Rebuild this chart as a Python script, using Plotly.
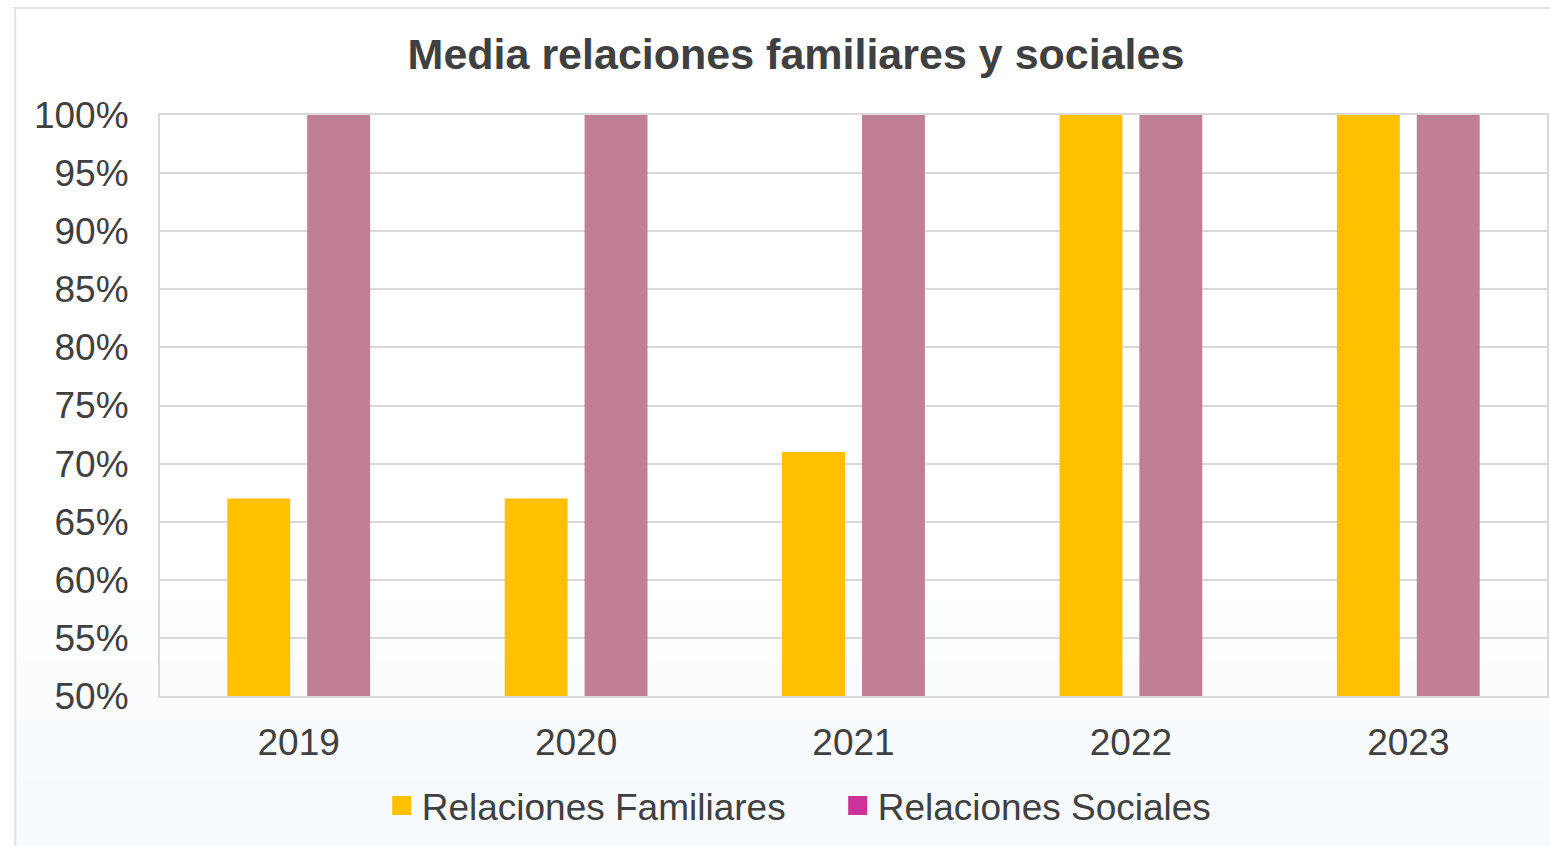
import plotly.graph_objects as go

years = ["2019", "2020", "2021", "2022", "2023"]
familiares = [67, 67, 71, 100, 100]
sociales = [100, 100, 100, 100, 100]
series_names = ["Relaciones Familiares", "Relaciones Sociales"]
y_ticks = [50, 55, 60, 65, 70, 75, 80, 85, 90, 95, 100]
y_ticklabels = [f"{v}%" for v in y_ticks]

YELLOW = "#FFC000"
MAUVE = "#C07F95"
MAGENTA = "#CC3399"
TEXT = "#404040"
GRID = "#D9D9D9"
FONT = "Liberation Sans, Arial, sans-serif"

fig = go.Figure()
fig.add_trace(go.Bar(x=years, y=familiares, base=0, marker=dict(color=YELLOW, line=dict(width=0)),
                     showlegend=False, name=series_names[0]))
fig.add_trace(go.Bar(x=years, y=sociales, base=0, marker=dict(color=MAUVE, line=dict(width=0)),
                     showlegend=False, name=series_names[1]))
# legend entries
fig.add_trace(go.Scatter(x=[None], y=[None], mode="markers", name=series_names[0],
                         marker=dict(symbol="square", size=16, color=YELLOW,
                                     line=dict(color=YELLOW, width=3))))
fig.add_trace(go.Scatter(x=[None], y=[None], mode="markers", name=series_names[1],
                         marker=dict(symbol="square", size=16, color=MAGENTA,
                                     line=dict(color=MAGENTA, width=3))))

L, R, T, B = 160, 1, 115, 150
W, H = 1550, 846
pw, ph = W - L - R, H - T - B

def px_x(px):
    return (px - L) / pw

def px_y(py):
    return (H - B - py) / ph

shapes = []
# subtle bluish background toward bottom
bands = [(600, 660, "#FCFDFE"), (660, 720, "#FAFCFE"), (720, 780, "#F8FBFD"), (780, 850, "#F6FAFD")]
for y0, y1, c in bands:
    shapes.append(dict(type="rect", xref="paper", yref="paper", x0=px_x(15), x1=px_x(1560),
                       y0=px_y(y1), y1=px_y(y0), fillcolor=c, line=dict(width=0), layer="below"))
# outer chart border
shapes.append(dict(type="rect", xref="paper", yref="paper", x0=px_x(15), x1=px_x(1580),
                   y0=px_y(860), y1=px_y(8), line=dict(color="#E3E3E3", width=2),
                   fillcolor="rgba(0,0,0,0)", layer="above"))

fig.update_layout(
    width=W, height=H,
    margin=dict(l=L, r=R, t=T, b=B, pad=0),
    paper_bgcolor="white",
    plot_bgcolor="rgba(255,255,255,0.8)",
    font=dict(family=FONT, color=TEXT, size=37),
    title=dict(text="<b>Media relaciones familiares y sociales</b>",
               font=dict(family=FONT, size=43, color=TEXT),
               x=796 / W, xanchor="center", xref="container",
               y=1 - 54 / H, yanchor="middle", yref="container"),
    barmode="group",
    bargap=0.424,
    bargroupgap=0.2125,
    showlegend=True,
    legend=dict(orientation="h", x=px_x(382), xanchor="left", y=px_y(806), yanchor="middle",
                font=dict(size=37, color=TEXT, family=FONT), bgcolor="rgba(0,0,0,0)",
                itemsizing="trace", entrywidth=411, entrywidthmode="pixels", tracegroupgap=0),
    shapes=shapes,
)
fig.update_xaxes(showgrid=False, showline=True, linecolor=GRID, linewidth=2, mirror=True,
                 ticks="", ticklabelstandoff=13, tickfont=dict(size=37, color=TEXT),
                 zeroline=False, fixedrange=True)
fig.update_yaxes(range=[50, 100], tickvals=y_ticks, ticktext=y_ticklabels,
                 showgrid=True, gridcolor=GRID, gridwidth=2, showline=True, linecolor=GRID,
                 linewidth=2, mirror=True, ticks="", ticklabelstandoff=22,
                 tickfont=dict(size=37, color=TEXT), zeroline=False)

fig.write_html("out.html")
